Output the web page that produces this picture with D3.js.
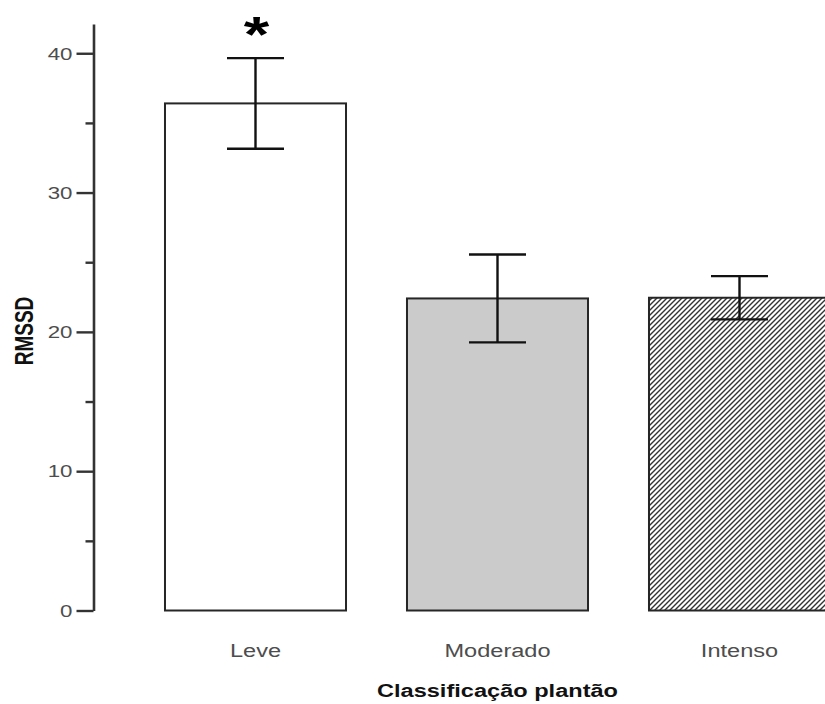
<!DOCTYPE html>
<html>
<head>
<meta charset="utf-8">
<script src="https://cdn.jsdelivr.net/npm/d3@7/dist/d3.min.js"></script>
<style>
  html, body { margin: 0; padding: 0; background: #fff; }
  svg { display: block; }
  text { font-family: "Liberation Sans", Arial, Helvetica, sans-serif; }
</style>
</head>
<body>
<svg id="chart" width="825" height="704"></svg>
<script>
// RMSSD by shift classification (mean ± error)
const categories = ["Leve", "Moderado", "Intenso"];
const means = [36.4, 22.4, 22.45];
const errors = [3.25, 3.15, 1.55];
const majorTicks = [0, 10, 20, 30, 40];
const minorTicks = [5, 15, 25, 35];
const significant = [true, false, false];

const fills = ["#ffffff", "#cbcbcb", "url(#hatch)"];
const stretch = 1.31; // glyphs are set wide

const svg = d3.select("#chart");

const defs = svg.append("defs");
const pat = defs.append("pattern")
  .attr("id", "hatch")
  .attr("patternUnits", "userSpaceOnUse")
  .attr("width", 5).attr("height", 5);
pat.append("rect").attr("width", 5).attr("height", 5).attr("fill", "#fff");
pat.append("path")
  .attr("d", "M-1,1 l2,-2 M0,5 l5,-5 M4,6 l2,-2")
  .attr("stroke", "#333").attr("stroke-width", 1.4);

const y = d3.scaleLinear().domain([0, 42.1]).range([610.5, 24]);
const x = d3.scaleBand().domain(categories)
  .range([134.5, 860.5]).paddingInner(0.252).paddingOuter(0.126);

// bars
const bars = categories.map((c, i) => ({ c, m: means[i], e: errors[i], f: fills[i], s: significant[i] }));

svg.append("g").selectAll("rect").data(bars).join("rect")
  .attr("x", d => x(d.c))
  .attr("y", d => y(d.m))
  .attr("width", x.bandwidth())
  .attr("height", d => y(0) - y(d.m))
  .attr("fill", d => d.f)
  .attr("stroke", "#262626")
  .attr("stroke-width", 2);

// error bars
const capW = 57;
const eb = svg.append("g").attr("stroke", "#111").attr("stroke-width", 2.4).attr("fill", "none");
bars.forEach(d => {
  const cx = x(d.c) + x.bandwidth() / 2;
  eb.append("line").attr("x1", cx).attr("x2", cx).attr("y1", y(d.m + d.e)).attr("y2", y(d.m - d.e));
  eb.append("line").attr("x1", cx - capW / 2).attr("x2", cx + capW / 2).attr("y1", y(d.m + d.e)).attr("y2", y(d.m + d.e));
  eb.append("line").attr("x1", cx - capW / 2).attr("x2", cx + capW / 2).attr("y1", y(d.m - d.e)).attr("y2", y(d.m - d.e));
});

// significance marks
svg.append("g").selectAll("text").data(bars.filter(d => d.s)).join("text")
  .attr("transform", d => `translate(${x(d.c) + x.bandwidth() / 2 + 1},${y(d.m + d.e) - 6}) scale(${stretch},1)`)
  .attr("text-anchor", "middle")
  .attr("font-size", 50).attr("font-weight", "bold").attr("fill", "#000")
  .text("*");

// y axis
const axisX = 93.5;
const ax = svg.append("g").attr("transform", `translate(${axisX},0)`)
  .call(d3.axisLeft(y).tickValues(majorTicks).tickSize(17).tickSizeOuter(0).tickFormat(d3.format("d")));
ax.select(".domain").attr("stroke", "#333").attr("stroke-width", 2.6);
ax.selectAll(".tick line").attr("stroke", "#333").attr("stroke-width", 2.4);
ax.selectAll(".tick text")
  .attr("x", null).attr("dy", "0.34em")
  .attr("transform", `translate(-21,0) scale(${stretch},1)`)
  .attr("font-size", 17).attr("fill", "#4d4d4d");

const axm = svg.append("g").attr("transform", `translate(${axisX},0)`)
  .call(d3.axisLeft(y).tickValues(minorTicks).tickSize(8).tickFormat(""));
axm.select(".domain").remove();
axm.selectAll(".tick line").attr("stroke", "#333").attr("stroke-width", 2.4);

// category labels
svg.append("g").selectAll("text").data(categories).join("text")
  .attr("transform", d => `translate(${x(d) + x.bandwidth() / 2},657) scale(${stretch},1)`)
  .attr("text-anchor", "middle")
  .attr("font-size", 18).attr("fill", "#4d4d4d")
  .text(d => d);

// axis titles
svg.append("text")
  .attr("transform", `translate(${x("Moderado") + x.bandwidth() / 2},697) scale(${stretch},1)`)
  .attr("text-anchor", "middle")
  .attr("font-size", 18).attr("font-weight", "bold").attr("fill", "#111")
  .text("Classificação plantão");

svg.append("text")
  .attr("transform", `translate(33,331) scale(${stretch},1) rotate(-90)`)
  .attr("text-anchor", "middle")
  .attr("font-size", 19).attr("font-weight", "bold").attr("fill", "#111")
  .text("RMSSD");
</script>
</body>
</html>
